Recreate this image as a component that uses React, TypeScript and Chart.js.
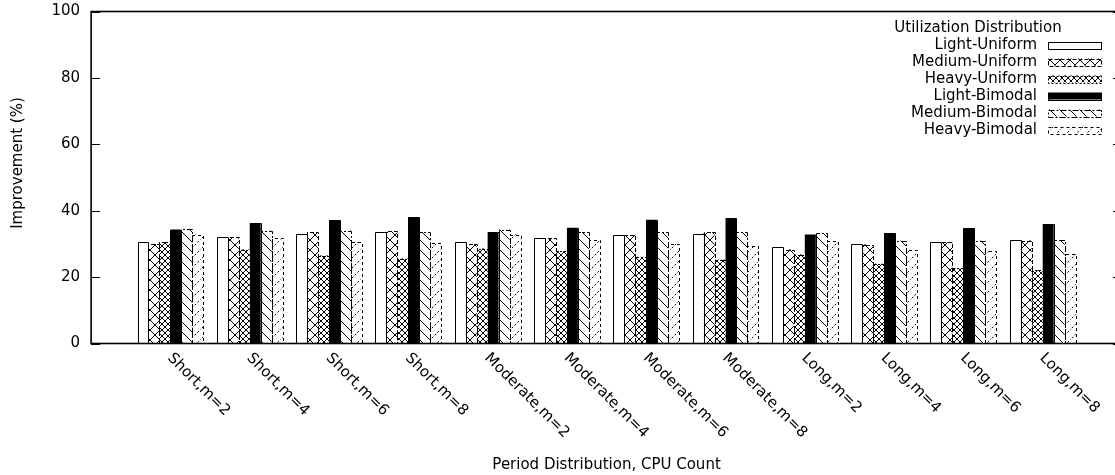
import React, { useEffect, useRef } from 'react';
import { Chart, registerables } from 'chart.js';

Chart.register(...registerables);

// ---- data ----
const categories = [
  'Short,m=2', 'Short,m=4', 'Short,m=6', 'Short,m=8',
  'Moderate,m=2', 'Moderate,m=4', 'Moderate,m=6', 'Moderate,m=8',
  'Long,m=2', 'Long,m=4', 'Long,m=6', 'Long,m=8',
];
const seriesNames = [
  'Light-Uniform', 'Medium-Uniform', 'Heavy-Uniform',
  'Light-Bimodal', 'Medium-Bimodal', 'Heavy-Bimodal',
];
const lightUniform = [30.7, 32.1, 33.0, 33.5, 30.6, 31.9, 32.6, 33.0, 29.0, 30.1, 30.7, 31.1];
const mediumUniform = [30.0, 32.1, 33.6, 33.8, 30.0, 31.8, 32.6, 33.5, 28.3, 29.8, 30.5, 31.0];
const heavyUniform = [30.6, 28.3, 26.5, 25.6, 28.6, 27.8, 26.1, 25.3, 26.8, 24.0, 22.6, 22.1];
const lightBimodal = [34.3, 36.3, 37.1, 38.0, 33.5, 34.9, 37.3, 37.7, 32.8, 33.3, 34.7, 35.9];
const mediumBimodal = [34.5, 34.0, 34.0, 33.6, 34.3, 33.6, 33.6, 33.5, 33.2, 31.0, 31.0, 31.1];
const heavyBimodal = [32.8, 31.8, 30.6, 30.3, 32.8, 31.2, 30.1, 29.5, 31.0, 28.3, 27.8, 27.0];
const yTicks = [0, 20, 40, 60, 80, 100];
const legendTitle = 'Utilization Distribution';
const xTitle = 'Period Distribution, CPU Count';
const yTitle = 'Improvement (%)';

const seriesValues = [lightUniform, mediumUniform, heavyUniform, lightBimodal, mediumBimodal, heavyBimodal];

const FONT = '15px "DejaVu Sans"';

function makePattern(size: number, draw: (g: CanvasRenderingContext2D, s: number) => void) {
  const c = document.createElement('canvas');
  c.width = size;
  c.height = size;
  const g = c.getContext('2d') as CanvasRenderingContext2D;
  g.fillStyle = '#fff';
  g.fillRect(0, 0, size, size);
  g.strokeStyle = '#000';
  g.lineWidth = 1;
  draw(g, size);
  return g.createPattern(c, 'repeat') as CanvasPattern;
}

function buildFills() {
  const cross = (g: CanvasRenderingContext2D, s: number) => {
    g.beginPath();
    g.moveTo(-1, -1); g.lineTo(s + 1, s + 1);
    g.moveTo(s + 1, -1); g.lineTo(-1, s + 1);
    g.stroke();
  };
  const back = (g: CanvasRenderingContext2D, s: number) => {
    g.beginPath();
    g.moveTo(-1, -1); g.lineTo(s + 1, s + 1);
    g.stroke();
  };
  const fwd = (g: CanvasRenderingContext2D, s: number) => {
    g.setLineDash([2, 2]);
    g.beginPath();
    g.moveTo(-1, s + 1); g.lineTo(s + 1, -1);
    g.stroke();
  };
  return [
    '#ffffff',
    makePattern(10, cross),
    makePattern(6, cross),
    '#000000',
    makePattern(10, back),
    makePattern(10, fwd),
  ];
}

const dashes: number[][] = [[], [4, 2], [2, 2], [], [6, 2, 2, 2], [3, 3]];

export default function App() {
  const ref = useRef<HTMLCanvasElement | null>(null);

  useEffect(() => {
    document.body.style.overflow = 'hidden';
    const canvas = ref.current;
    if (!canvas) return;
    const fills = buildFills();

    const decor = {
      id: 'decor',
      afterDatasetsDraw(chart: any) {
        const ctx = chart.ctx as CanvasRenderingContext2D;
        chart.data.datasets.forEach((ds: any, k: number) => {
          const meta = chart.getDatasetMeta(k);
          meta.data.forEach((el: any, i: number) => {
            if (ds.data[i] == null) return;
            const p = el.getProps(['x', 'y', 'base', 'width'], true);
            const l = Math.round(p.x - p.width / 2) + 0.5;
            const r = Math.round(p.x + p.width / 2) + 0.5;
            const t = Math.round(p.y) + 0.5;
            const b = Math.round(p.base);
            ctx.save();
            ctx.setLineDash(dashes[k]);
            ctx.strokeStyle = '#000';
            ctx.lineWidth = 1;
            ctx.beginPath();
            ctx.moveTo(l, b);
            ctx.lineTo(l, t);
            ctx.lineTo(r, t);
            ctx.lineTo(r, b);
            ctx.stroke();
            ctx.restore();
          });
        });
      },
      afterDraw(chart: any) {
        const ctx = chart.ctx as CanvasRenderingContext2D;
        const a = chart.chartArea;
        const xs = chart.scales.x;
        const ys = chart.scales.y;
        ctx.save();
        // inward y ticks (left and mirrored right)
        ctx.strokeStyle = '#000';
        ctx.lineWidth = 1;
        yTicks.forEach((v) => {
          const py = Math.round(ys.getPixelForValue(v)) + 0.5;
          ctx.beginPath();
          ctx.moveTo(a.left, py); ctx.lineTo(a.left + 9, py);
          ctx.moveTo(a.right, py); ctx.lineTo(a.right - 9, py);
          ctx.stroke();
        });
        // border
        ctx.lineWidth = 1.6;
        ctx.strokeRect(a.left, a.top, a.right - a.left, a.bottom - a.top);

        ctx.fillStyle = '#000';
        ctx.font = FONT;
        // x category labels, rotated clockwise 45deg
        categories.forEach((c, i) => {
          const px = xs.getPixelForValue(i + 1);
          ctx.save();
          ctx.translate(px - 3.5, a.bottom + 15);
          ctx.rotate(Math.PI / 4);
          ctx.textAlign = 'left';
          ctx.textBaseline = 'alphabetic';
          ctx.fillText(c, 0, 0);
          ctx.restore();
        });
        // axis titles
        ctx.textAlign = 'center';
        ctx.textBaseline = 'middle';
        ctx.fillText(xTitle, (a.left + a.right) / 2, 465);
        ctx.save();
        ctx.translate(18, 163);
        ctx.rotate(-Math.PI / 2);
        ctx.fillText(yTitle, 0, 0);
        ctx.restore();

        // legend
        ctx.textAlign = 'center';
        ctx.fillText(legendTitle, 978, 28);
        seriesNames.forEach((name, k) => {
          const ry = 45 + k * 17;
          ctx.textAlign = 'right';
          ctx.fillStyle = '#000';
          ctx.fillText(name, 1037, ry);
          ctx.fillStyle = fills[k] as any;
          ctx.fillRect(1048, ry - 3.5, 54, 7);
          ctx.save();
          ctx.setLineDash(dashes[k]);
          ctx.lineWidth = 1;
          ctx.strokeStyle = '#000';
          ctx.strokeRect(1048.5, Math.round(ry - 3.5) + 0.5, 53, 7);
          ctx.restore();
        });
        ctx.restore();
      },
    };

    const chart = new Chart(canvas, {
      type: 'bar',
      data: {
        labels: ['', ...categories, ''],
        datasets: seriesNames.map((name, k) => ({
          label: name,
          data: [null, ...seriesValues[k], null],
          backgroundColor: fills[k] as any,
          borderWidth: 0,
          categoryPercentage: 0.83,
          barPercentage: 1.0,
        })),
      },
      options: {
        responsive: false,
        animation: false,
        events: [],
        layout: { padding: { left: 40.5, top: 11.5, right: 8, bottom: 131.5 } },
        plugins: { legend: { display: false }, tooltip: { enabled: false } },
        scales: {
          x: {
            type: 'category',
            offset: false,
            display: false,
            grid: { display: false },
          },
          y: {
            min: 0,
            max: 100,
            afterBuildTicks: (scale: any) => {
              scale.ticks = yTicks.map((v) => ({ value: v }));
            },
            afterFit: (scale: any) => {
              scale.paddingTop = 0;
              scale.paddingBottom = 0;
            },
            ticks: {
              font: { family: 'DejaVu Sans', size: 15 },
              color: '#000',
              padding: 11,
            },
            grid: { display: false, drawTicks: false },
            border: { display: false },
          },
        },
      },
      plugins: [decor],
    });
    return () => chart.destroy();
  }, []);

  return (
    <div style={{ position: 'fixed', left: 0, top: 0, width: 1130, height: 475, background: '#fff' }}>
      <canvas ref={ref} width={1130} height={475} style={{ display: 'block' }} />
    </div>
  );
}
